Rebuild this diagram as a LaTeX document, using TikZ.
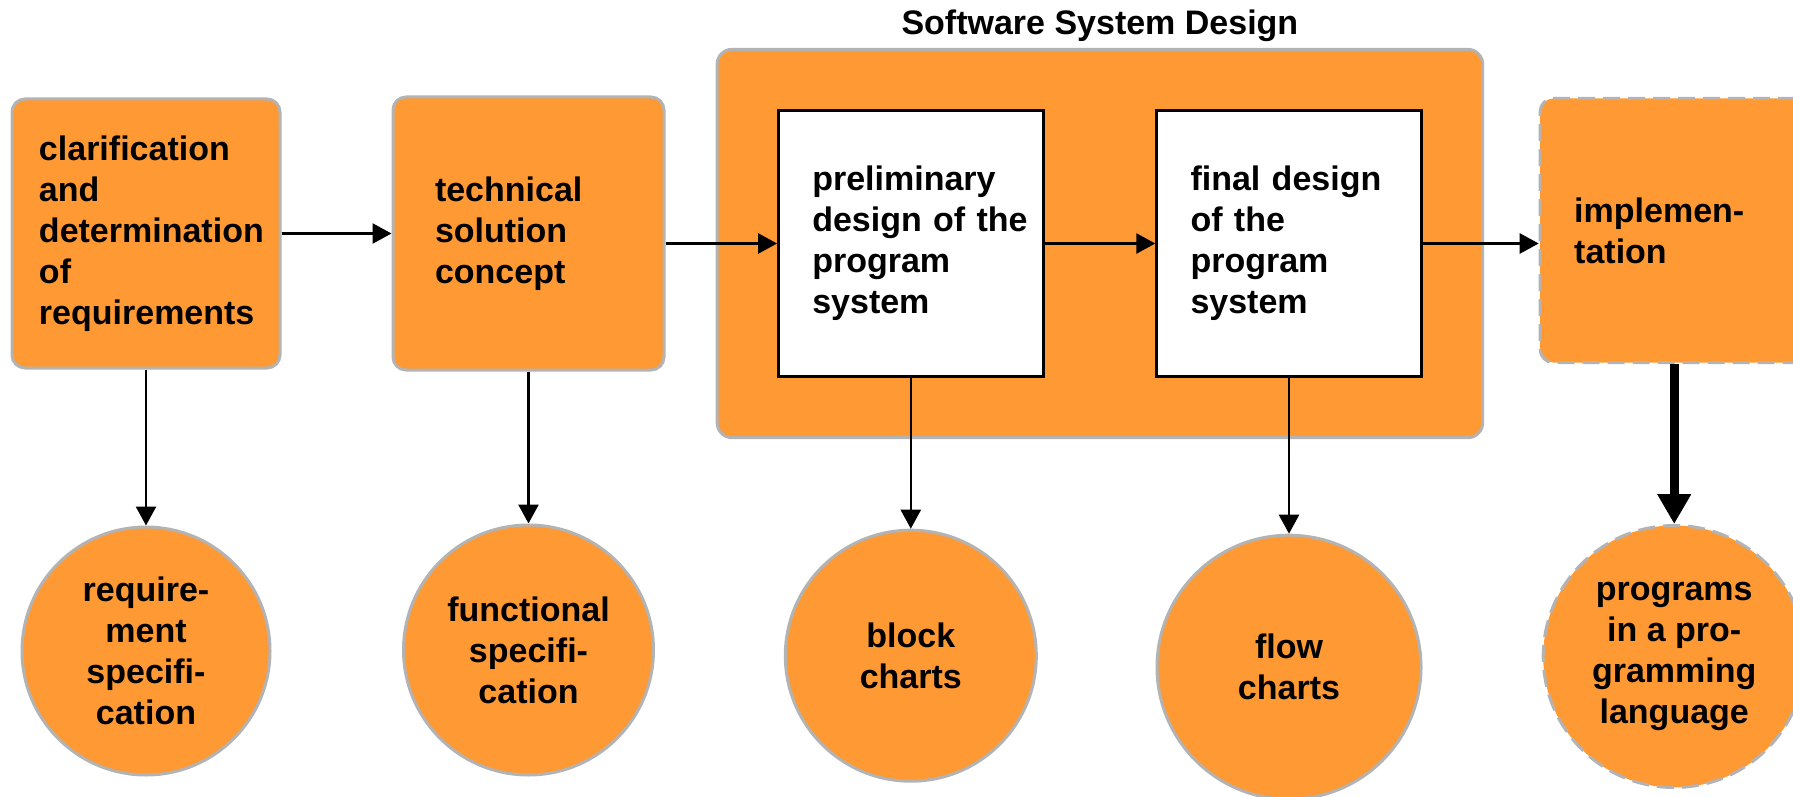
\documentclass[tikz,border=0pt]{standalone}
\usepackage{fontspec}
\setmainfont{Liberation Sans}
\usepackage{xcolor}
\usepackage{tikz}
\usetikzlibrary{arrows.meta}
\usetikzlibrary{positioning}
\usetikzlibrary{fit,backgrounds}
\definecolor{stageorange}{RGB}{255,153,51}
\definecolor{rimgray}{RGB}{179,179,179}
\hyphenpenalty=10000

\begin{document}
\begin{tikzpicture}[x=0.5pt,y=-0.5pt,>={Triangle[length=9.5pt,width=10pt]},node distance=78pt,
	font=\fontsize{17pt}{20.5pt}\selectfont\bfseries]
	\tikzstyle{stage}=[draw=rimgray, fill=stageorange, line width=1.5pt, rounded corners=6.5pt, align=left, inner ysep=0pt]
	\tikzstyle{design}=[draw=black, fill=white, line width=1.2pt, align=left, text width=98.5pt, inner xsep=17pt, minimum height=133pt]
	\tikzstyle{result}=[draw=rimgray, fill=stageorange, line width=1.5pt, circle, inner sep=0pt, align=center]
	\tikzstyle{pending}=[dash pattern=on 8.5pt off 4pt]
	\tikzstyle{flow}=[->, line width=1.3pt]
	\useasboundingbox (0,0) rectangle (1793,797);
	\clip (0,0) rectangle (1793,797);
	% process stages
	\node[stage, text width=107pt, inner xsep=13.5pt, minimum height=134.5pt] (clar) at (146,233.5) {clarification\\and\\determination\\of\\requirements};
	\node[stage, text width=93.5pt, inner xsep=21pt, minimum height=136.5pt] (concept) [right=55pt of clar] {technical\\solution\\concept};
	\node[design] (prelim) [right=55.8pt of concept, yshift=-5pt] {preliminary\\design~of~the\\program\\system};
	\node[design] (final) [right=55.4pt of prelim] {final~design\\of the\\program\\system};
	\node[stage, pending, text width=100pt, inner xsep=17pt, minimum height=132pt] (impl) [right=58pt of final, yshift=6.5pt] {implemen-\\tation};
	\begin{scope}[on background layer]
		\node[draw=rimgray, fill=stageorange, line width=1.5pt, rounded corners=7.5pt, inner sep=30pt, fit=(prelim)(final)] (sysdesign) {};
	\end{scope}
	\node[anchor=base] (sdtitle) at ([yshift=6.5pt]sysdesign.north) {Software System Design};
	% documents
	\node[result, minimum size=124pt] (reqspec) [below=78pt of clar] {require-\\ment\\specifi-\\cation};
	\node[result, minimum size=125pt] (funcspec) [below=76pt of concept] {functional\\specifi-\\cation};
	\node[result, minimum size=125.5pt] (block) [below=75.5pt of prelim] {block\\charts};
	\node[result, minimum size=132pt] (flowch) [below=78pt of final] {flow\\charts};
	\node[result, pending, minimum size=131pt] (prog) [below=80pt of impl] {programs\\in a pro-\\gramming\\language};
	\path
		(clar) edge[flow] (concept)
		(concept.east |- prelim.west) edge[flow] (prelim.west)
		(prelim) edge[flow] (final)
		(final.east) edge[flow] (final.east -| impl.west)
		(clar) edge[flow] (reqspec)
		(concept) edge[flow] (funcspec)
		(prelim) edge[flow] (block)
		(final) edge[flow] (flowch);
	\draw[line width=4.5pt, -{Triangle[length=15pt,width=16pt]}] (impl) -- (prog);
\end{tikzpicture}
\end{document}
